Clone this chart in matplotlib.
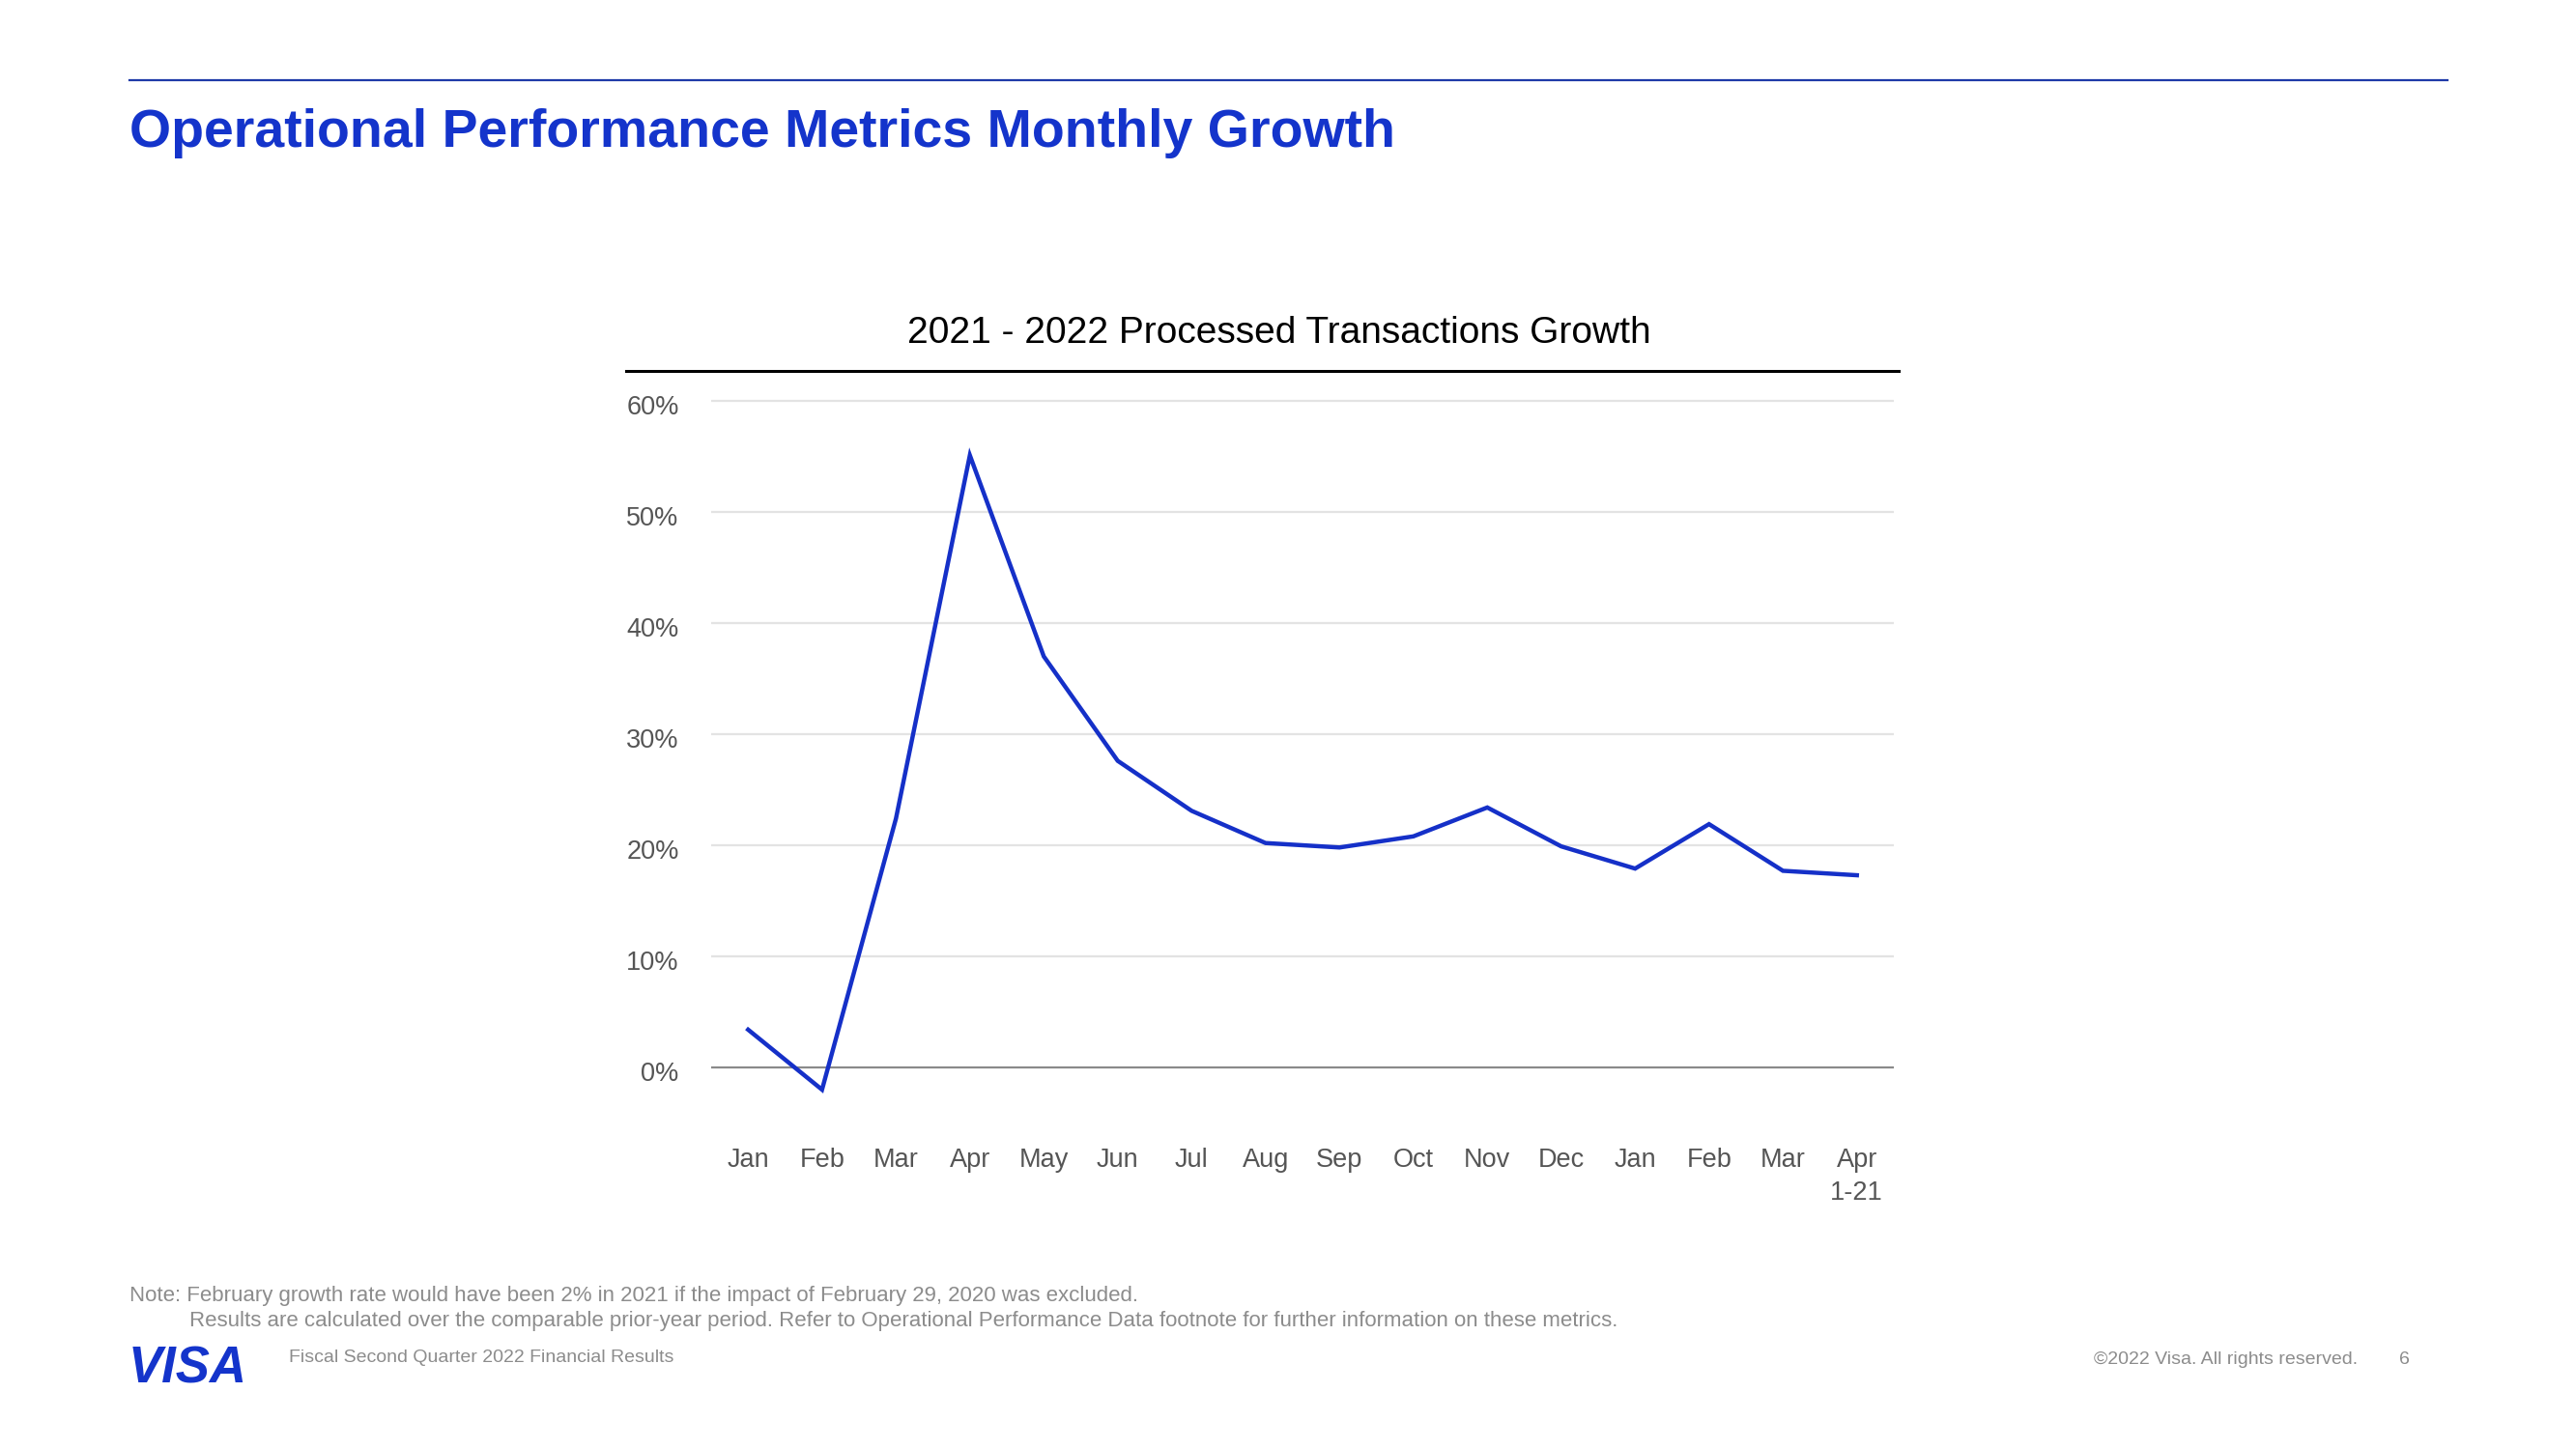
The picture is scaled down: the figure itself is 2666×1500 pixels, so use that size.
import matplotlib
matplotlib.use("Agg")
import matplotlib.pyplot as plt
from matplotlib.lines import Line2D
from matplotlib.ticker import FuncFormatter
from matplotlib.transforms import ScaledTranslation

plt.rcParams['font.family'] = ['Liberation Sans', 'DejaVu Sans']

# ---- data ----
months = ["Jan", "Feb", "Mar", "Apr", "May", "Jun", "Jul", "Aug", "Sep", "Oct",
          "Nov", "Dec", "Jan", "Feb", "Mar", "Apr\n1-21"]
growth = [0.034, -0.020, 0.224, 0.551, 0.370, 0.276, 0.231, 0.202, 0.198, 0.208,
          0.234, 0.199, 0.179, 0.219, 0.177, 0.173]
yticks = [0.0, 0.1, 0.2, 0.3, 0.4, 0.5, 0.6]

slide_title = "Operational Performance Metrics Monthly Growth"
chart_title = "2021 - 2022 Processed Transactions Growth"
note1 = "Note: February growth rate would have been 2% in 2021 if the impact of February 29, 2020 was excluded."
note2 = "Results are calculated over the comparable prior-year period. Refer to Operational Performance Data footnote for further information on these metrics."
footer_left = "Fiscal Second Quarter 2022 Financial Results"
footer_right = "\u00a92022 Visa. All rights reserved."
page_no = "6"

W, H = 2666, 1500
fig = plt.figure(figsize=(W / 100, H / 100), dpi=100)
fig.patch.set_facecolor("white")

def fx(px):
    return px / W

def fy(py):
    return 1 - py / H

VISA_BLUE = "#1434CB"

# top rule
fig.add_artist(Line2D([fx(134), fx(2533)], [fy(83), fy(83)], color="#1e3aa8", lw=1.6))
# slide title
fig.text(fx(134), fy(152), slide_title, color=VISA_BLUE, fontsize=40, fontweight="bold",
         ha="left", va="baseline")

# chart title + rule
fig.text(fx(1324), fy(345), chart_title, color="black", fontsize=28, ha="center", va="center")
fig.add_artist(Line2D([fx(648), fx(1965)], [fy(384), fy(384)], color="black", lw=2.2))

# axes
ybot, ytop = -0.05, 0.61
ax = fig.add_axes([fx(736), fy(1162.5), fx(1960) - fx(736), (1162.5 - 403.5) / H])
ax.plot(range(len(growth)), growth, color="#1530C8", lw=3.2, solid_joinstyle="miter", zorder=3)
ax.set_xlim(-0.5, len(growth) - 0.5)
ax.set_ylim(ybot, ytop)
ax.set_yticks(yticks)
ax.yaxis.set_major_formatter(FuncFormatter(lambda v, p: f"{v*100:.0f}%"))
ax.set_xticks(range(len(months)))
ax.set_xticklabels(months, linespacing=1.4)
for s in ax.spines.values():
    s.set_visible(False)
ax.tick_params(axis="both", length=0, labelsize=19.5, labelcolor="#555555")
ax.tick_params(axis="y", pad=24)
ax.tick_params(axis="x", pad=18)
shift = ScaledTranslation(0, -4 / 100, fig.dpi_scale_trans)
for lbl in ax.get_yticklabels():
    lbl.set_transform(lbl.get_transform() + shift)
for t in yticks:
    ax.axhline(t, color="#8a8a8a" if t == 0 else "#e3e3e3", lw=1.6, zorder=1)

# notes
fig.text(fx(134), fy(1341), note1, color="#8c8c8c", fontsize=16, ha="left", va="center")
fig.text(fx(196), fy(1368), note2, color="#8c8c8c", fontsize=16, ha="left", va="center")

# footer
fig.text(fx(133), fy(1432), "VISA", color=VISA_BLUE, fontsize=38, fontweight="bold",
         fontstyle="italic", ha="left", va="baseline")
fig.text(fx(299), fy(1405), footer_left, color="#8c8c8c", fontsize=14, ha="left", va="center")
fig.text(fx(2440), fy(1407), footer_right, color="#8c8c8c", fontsize=14, ha="right", va="center")
fig.text(fx(2488), fy(1407), page_no, color="#8c8c8c", fontsize=14, ha="center", va="center")

fig.savefig("out.png", dpi=100, facecolor="white")
